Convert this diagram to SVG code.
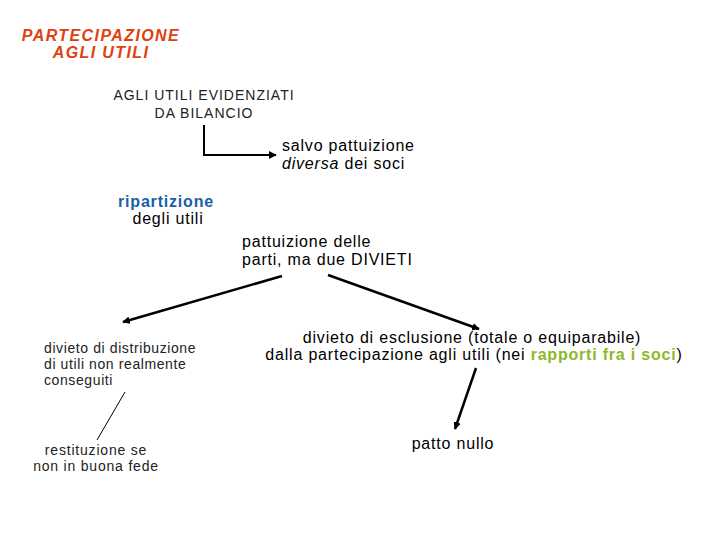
<svg xmlns="http://www.w3.org/2000/svg" width="720" height="540" viewBox="0 0 720 540">
<defs>
<marker id="ah" viewBox="0 0 10 10" refX="9" refY="5" markerWidth="4" markerHeight="4" orient="auto" markerUnits="strokeWidth">
<path d="M0,0 L10,5 L0,10 z" fill="#000"/>
</marker>
<marker id="ah2" viewBox="0 0 10 10" refX="9" refY="5" markerWidth="3" markerHeight="3" orient="auto" markerUnits="strokeWidth">
<path d="M0,0 L10,5 L0,10 z" fill="#000"/>
</marker>
</defs>
<style>
text{font-family:"Liberation Sans",Arial,sans-serif;fill:#000}
.title{font-size:16px;font-weight:bold;font-style:italic;fill:#e0400f;letter-spacing:1.4px}
.thin{font-size:14px;letter-spacing:1px;fill:#222}
.thin2{font-size:14px;letter-spacing:0.8px;fill:#222}
.thin13{font-size:14px;letter-spacing:0.6px;fill:#222}
.reg{font-size:16px;letter-spacing:0.8px}
.blue{fill:#1a5fa8;font-weight:bold}
.green{fill:#8cb82a;font-weight:bold}
.c{stroke:#000;fill:none}
</style>
<rect width="720" height="540" fill="#fff"/>
<g id="title">
<text class="title" x="101" y="41" text-anchor="middle">PARTECIPAZIONE</text>
<text class="title" x="101" y="58" text-anchor="middle">AGLI UTILI</text>
</g>
<g id="evidenziati">
<text class="thin" x="204" y="100" text-anchor="middle">AGLI UTILI EVIDENZIATI</text>
<text class="thin" x="204" y="118" text-anchor="middle">DA BILANCIO</text>
</g>
<g id="salvo">
<text class="reg" x="282" y="151">salvo pattuizione</text>
<text class="reg" x="282" y="169"><tspan font-style="italic">diversa</tspan> dei soci</text>
</g>
<g id="ripartizione">
<text class="reg" x="166" y="207" text-anchor="middle"><tspan class="blue">ripartizione</tspan></text>
<text class="reg" x="168" y="224" text-anchor="middle">degli utili</text>
</g>
<g id="pattuizione">
<text class="reg" x="242" y="247">pattuizione delle</text>
<text class="reg" x="242" y="265">parti, ma due DIVIETI</text>
</g>
<g id="distribuzione">
<text class="thin13" x="44" y="353">divieto di distribuzione</text>
<text class="thin13" x="44" y="369">di utili non realmente</text>
<text class="thin13" x="44" y="385">conseguiti</text>
</g>
<g id="restituzione">
<text class="thin2" x="96" y="455" text-anchor="middle">restituzione se</text>
<text class="thin2" x="96" y="471" text-anchor="middle">non in buona fede</text>
</g>
<g id="esclusione">
<text class="reg" x="472" y="343" text-anchor="middle">divieto di esclusione (totale o equiparabile)</text>
<text class="reg" x="474" y="360" text-anchor="middle">dalla partecipazione agli utili (nei <tspan class="green">rapporti fra i soci</tspan>)</text>
</g>
<g id="nullo">
<text class="reg" x="453" y="449" text-anchor="middle">patto nullo</text>
</g>
<g id="connectors">
<path class="c" d="M204,125 V155 H276" stroke-width="2" marker-end="url(#ah)"/>
<line class="c" x1="282" y1="276" x2="123" y2="322" stroke-width="2.5" marker-end="url(#ah2)"/>
<line class="c" x1="328" y1="275" x2="479" y2="329" stroke-width="2.5" marker-end="url(#ah2)"/>
<line class="c" x1="476" y1="368" x2="455" y2="429" stroke-width="2.5" marker-end="url(#ah2)"/>
<line class="c" x1="125" y1="392" x2="97" y2="440" stroke-width="1"/>
</g>
</svg>
